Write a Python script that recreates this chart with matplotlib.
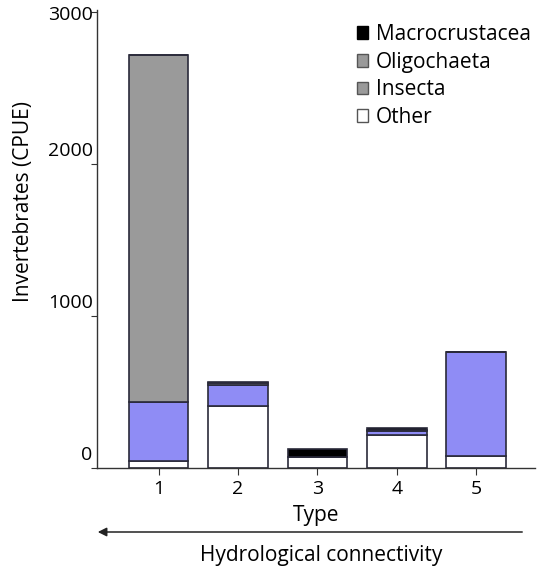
#!/usr/bin/env python3
"""Stacked invertebrate catch per type along the hydrological gradient."""

import matplotlib
matplotlib.use("Agg")
import matplotlib.pyplot as plt
from matplotlib.patches import Patch, FancyArrowPatch
from matplotlib.transforms import blended_transform_factory

types = ["1", "2", "3", "4", "5"]
other = [45, 405, 70, 215, 79]
insecta = [390, 140, 0, 28, 684]
oligochaeta = [2280, 12, 0, 10, 0]
macrocrustacea = [0, 10, 55, 10, 0]
y_ticks = [0, 1000, 2000, 3000]

BLUE = "#8f8cf5"
GREY = "#9a9a9a"
EDGE = "#2a2a3a"


def main():
    plt.rcParams["font.family"] = ["Open Sans", "DejaVu Sans"]
    plt.rcParams["font.size"] = 15

    fig = plt.figure(figsize=(5.37, 5.69), dpi=100)
    ax = fig.add_axes([97 / 537, 101 / 569, 438 / 537, 458 / 569])

    x = [i + 1 for i in range(len(types))]
    bottom = [0] * len(types)
    for vals, col in [(other, "white"), (insecta, BLUE),
                      (oligochaeta, GREY), (macrocrustacea, "black")]:
        ax.bar(x, vals, width=0.75, bottom=bottom, color=col,
               edgecolor=EDGE, linewidth=1.2)
        bottom = [b + v for b, v in zip(bottom, vals)]

    ax.set_xlim(0.225, 5.74)
    ax.set_ylim(0, 3013)
    for s in ["top", "right"]:
        ax.spines[s].set_visible(False)
    for s in ["left", "bottom"]:
        ax.spines[s].set_color("#333333")
        ax.spines[s].set_linewidth(1.0)

    ax.set_xticks(x)
    ax.set_xticklabels(types, fontsize=14)
    ax.tick_params(axis="x", length=5, pad=4, color="#333333")

    # y labels sit just above their tick marks
    ax.set_yticks(y_ticks)
    ax.set_yticklabels([])
    ax.tick_params(axis="y", length=4, color="#333333")
    trans = blended_transform_factory(ax.transAxes, ax.transData)
    for v in y_ticks:
        ax.text(-0.01, v + (-20 if v == 3000 else 25), str(v),
                transform=trans, ha="right", fontsize=14,
                va="center" if v == 3000 else "bottom")

    ax.set_xlabel("Type", labelpad=5)
    fig.text(23 / 537, 1 - 201 / 569, "Invertebrates (CPUE)",
             rotation=90, ha="center", va="center")

    handles = [Patch(facecolor="black", edgecolor="black"),
               Patch(facecolor=GREY, edgecolor="#555555"),
               Patch(facecolor=GREY, edgecolor="#555555"),
               Patch(facecolor="white", edgecolor="#555555")]
    ax.legend(handles, ["Macrocrustacea", "Oligochaeta", "Insecta", "Other"],
              loc="upper left", bbox_to_anchor=(357 / 537, 1 - 24 / 569),
              bbox_transform=fig.transFigure, frameon=False, borderpad=0,
              borderaxespad=0, handlelength=0.55, handleheight=0.55,
              handletextpad=0.35, labelspacing=0.32)

    # connectivity arrow under the axis
    fig.patches.append(FancyArrowPatch(
        (525 / 537, 1 - 532 / 569), (95 / 537, 1 - 532 / 569),
        transform=fig.transFigure, arrowstyle="-|>", mutation_scale=13,
        color="#222222", linewidth=1.1))
    fig.text(321 / 537, 1 - 555 / 569, "Hydrological connectivity",
             ha="center", va="center")

    fig.savefig("out.png", dpi=100)


if __name__ == "__main__":
    main()
